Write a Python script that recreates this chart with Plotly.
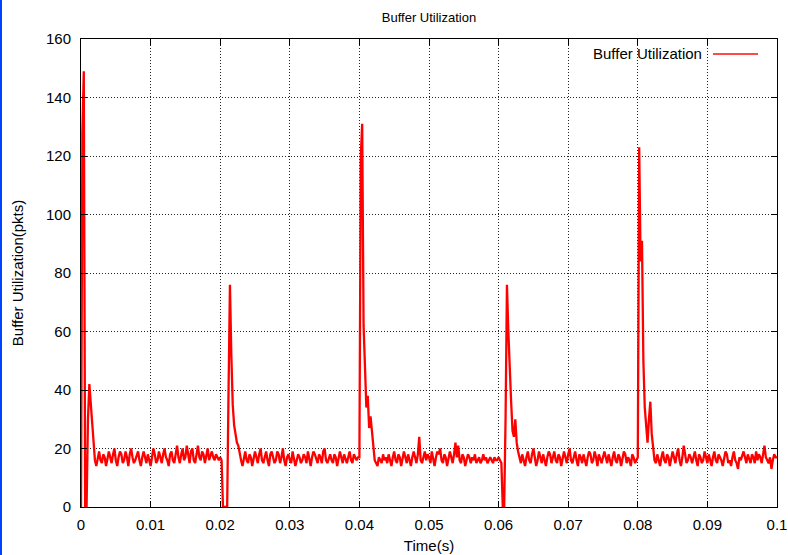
import numpy as np
import plotly.graph_objects as go

# Queue occupancy trace (packets), sampled every 0.2 ms.
# One list per 20 ms window; each row below is 4 ms of samples.
SAMPLE_STEP = 0.0002
WINDOW_STARTS = [0.0, 0.02, 0.04, 0.06, 0.08]

buf_0_20ms = [
    0, 128, 149, 0, 0, 30, 42, 35, 28, 20, 16, 14, 17, 19, 16, 15, 18, 17, 14, 16,
    19, 17, 15, 18, 20, 16, 14, 17, 19, 18, 15, 16, 19, 17, 14, 18, 20, 17, 15, 16,
    18, 19, 16, 14, 17, 19, 17, 15, 18, 16, 14, 17, 20, 18, 15, 16, 19, 17, 15, 18,
    20, 17, 16, 14, 18, 19, 16, 15, 19, 21, 17, 15, 18, 20, 16, 17, 21, 18, 15, 19,
    20, 16, 15, 18, 21, 17, 16, 19, 18, 15, 17, 20, 16, 18, 19, 17, 16, 18, 17, 16,
]
buf_20_40ms = [
    17, 16, 0, 0, 0, 0, 40, 76, 52, 35, 28, 24, 22, 21, 18, 16, 14, 17, 19, 16,
    15, 18, 17, 14, 16, 19, 17, 15, 18, 20, 16, 15, 17, 19, 16, 14, 18, 19, 17, 15,
    16, 19, 18, 15, 17, 20, 16, 14, 17, 18, 16, 15, 19, 17, 14, 16, 18, 17, 15, 16,
    18, 17, 15, 19, 16, 14, 17, 19, 18, 16, 15, 18, 17, 15, 19, 20, 16, 15, 17, 18,
    16, 15, 18, 17, 14, 16, 19, 17, 15, 18, 16, 15, 17, 19, 16, 15, 18, 17, 16, 17,
]
buf_40_60ms = [
    17, 120, 131, 62, 45, 34, 38, 27, 31, 26, 19, 16, 15, 14, 17, 16, 15, 18, 16, 17,
    15, 18, 16, 14, 17, 19, 16, 15, 18, 17, 14, 16, 19, 17, 15, 18, 16, 14, 17, 19,
    17, 15, 18, 24, 16, 15, 17, 19, 16, 18, 17, 15, 19, 16, 14, 17, 19, 18, 20, 16,
    15, 18, 17, 14, 16, 19, 17, 15, 18, 22, 17, 21, 16, 15, 18, 17, 14, 16, 18, 17,
    15, 17, 16, 18, 15, 16, 17, 15, 16, 18, 16, 17, 15, 16, 17, 16, 15, 17, 16, 16,
]
buf_60_80ms = [
    17, 16, 15, 0, 0, 30, 76, 60, 45, 36, 26, 24, 30, 22, 19, 17, 15, 18, 16, 14,
    17, 19, 16, 15, 18, 20, 17, 14, 16, 19, 17, 15, 18, 16, 14, 17, 19, 18, 15, 17,
    19, 16, 15, 18, 17, 14, 16, 19, 17, 15, 18, 20, 16, 15, 17, 19, 16, 14, 18, 17,
    15, 18, 16, 14, 17, 19, 18, 15, 16, 19, 17, 14, 18, 16, 15, 17, 19, 17, 15, 18,
    16, 14, 17, 19, 16, 15, 18, 17, 14, 16, 19, 18, 15, 17, 16, 14, 18, 17, 15, 16,
]
buf_80_100ms = [
    17, 123, 84, 91, 50, 34, 26, 22, 30, 36, 25, 19, 16, 15, 18, 16, 14, 17, 19, 16,
    15, 18, 17, 14, 16, 19, 17, 15, 18, 20, 16, 14, 17, 21, 18, 15, 16, 18, 17, 15,
    17, 19, 16, 14, 18, 17, 15, 16, 19, 17, 15, 18, 16, 14, 17, 19, 16, 15, 18, 17,
    16, 14, 17, 19, 18, 15, 16, 14, 17, 19, 16, 15, 13, 17, 16, 18, 19, 17, 15, 18,
    16, 15, 18, 17, 15, 19, 16, 18, 17, 15, 18, 21, 17, 16, 15, 17, 13, 16, 18, 17, 17,
]

x_ticks = [0, 0.01, 0.02, 0.03, 0.04, 0.05, 0.06, 0.07, 0.08, 0.09, 0.1]
y_ticks = [0, 20, 40, 60, 80, 100, 120, 140, 160]

windows = [buf_0_20ms, buf_20_40ms, buf_40_60ms, buf_60_80ms, buf_80_100ms]
t_vals, q_vals = [], []
for start, vals in zip(WINDOW_STARTS, windows):
    t_vals.extend(np.round(start + SAMPLE_STEP * np.arange(len(vals)), 6))
    q_vals.extend(vals)

FONT = "Liberation Sans, Arial, Helvetica, sans-serif"

fig = go.Figure()
fig.add_trace(go.Scatter(
    x=t_vals, y=q_vals, mode="lines", name="Buffer Utilization",
    line=dict(color="#ff0000", width=2.3), showlegend=False,
))

axis_common = dict(
    showline=True, linecolor="black", linewidth=1, mirror="allticks",
    ticks="inside", ticklen=6, tickcolor="black", tickwidth=1,
    showgrid=True, gridcolor="#222222", gridwidth=1, griddash="1px,2px",
    zeroline=False, automargin=False,
    tickfont=dict(family=FONT, size=15, color="black"),
)

fig.update_xaxes(
    range=[0, 0.1], tickvals=x_ticks, ticktext=[f"{v:g}" for v in x_ticks],
    title=dict(text="Time(s)", font=dict(family=FONT, size=15, color="black"), standoff=8),
    ticklabelstandoff=4, **axis_common,
)
fig.update_yaxes(
    range=[0, 160], tickvals=y_ticks,
    title=dict(text="Buffer Utilization(pkts)", font=dict(family=FONT, size=15, color="black"), standoff=18),
    ticklabelstandoff=6, **axis_common,
)

# gnuplot-style key: label on the left, line sample on the right
fig.add_annotation(
    xref="paper", yref="paper", x=0.895, y=0.968, xanchor="right", yanchor="middle",
    text="Buffer Utilization", showarrow=False, font=dict(family=FONT, size=15, color="black"),
)
fig.add_shape(
    type="line", xref="paper", yref="paper", x0=0.908, x1=0.9727, y0=0.968, y1=0.968,
    line=dict(color="#ff4a4a", width=2),
)
# window frame edge on the left
fig.add_shape(
    type="line", xref="paper", yref="paper", xsizemode="pixel", ysizemode="pixel",
    xanchor=0, yanchor=0, x0=-80, x1=-80, y0=-48, y1=507,
    line=dict(color="#0044ff", width=2),
)

fig.update_layout(
    width=788, height=555,
    margin=dict(l=81, r=11, t=39, b=48, autoexpand=False),
    paper_bgcolor="white", plot_bgcolor="white",
    title=dict(text="Buffer Utilization", x=0.5, xref="paper", xanchor="center",
               y=1 - 17 / 555, yref="container", yanchor="middle",
               font=dict(family=FONT, size=13, color="black")),
    font=dict(family=FONT, color="black"),
)

fig.write_html("out.html")
